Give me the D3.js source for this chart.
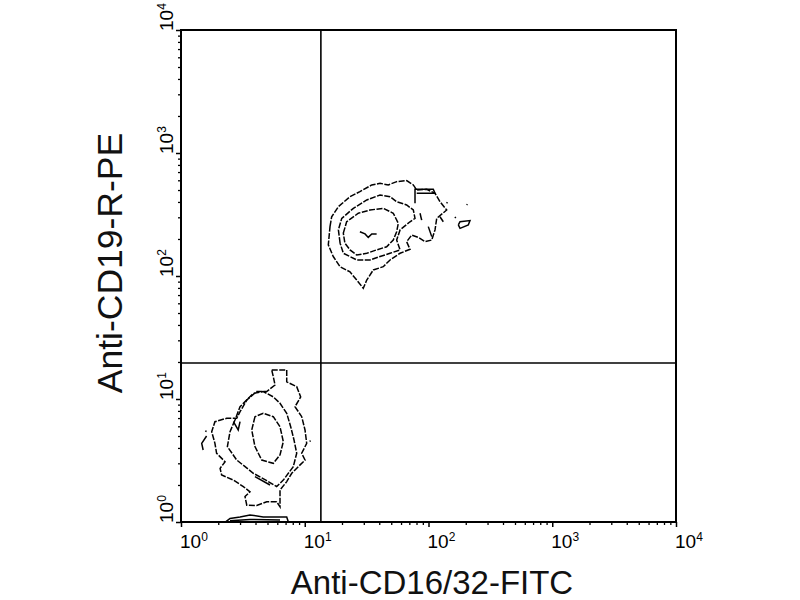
<!DOCTYPE html>
<html><head><meta charset="utf-8">
<script src="https://cdn.jsdelivr.net/npm/d3@7"></script>
<style>body{margin:0;background:#fff}</style>
</head><body>
<svg id="chart" width="800" height="600"></svg>
<script>
// ---- data ----
const decades = [1, 10, 100, 1000, 10000];
const decadeExponents = ["0", "1", "2", "3", "4"];
const minorMultipliers = [2, 3, 4, 5, 6, 7, 8, 9];
const xTitle = "Anti-CD16/32-FITC";
const yTitle = "Anti-CD19-R-PE";
const quadrantX = 13.5;
const quadrantY = 19.6;

// upper-right population (CD19+) contour levels, [FITC, PE]
const upperOuter = [[16.0,252],[16.5,303],[18.7,366],[23.2,441],[27.9,485],[34.8,550],[40.6,567],[47.3,550],[55.3,585],[66.6,596],[75.4,550],[80.3,500],[96.7,507],[112.9,470],[123.8,402],[140.3,344],[116.5,294],[112.9,237],[106.2,196],[93.7,190],[82.7,206],[73.1,215],[66.6,190],[70.9,165],[58.9,153],[48.9,135],[43.1,119],[35.8,112],[31.7,92.8],[29.7,79.4],[26.3,92.8],[23.2,108],[19.3,119],[17.0,144],[15.5,179]];
const upperMiddle = [[19.3,185],[18.7,237],[19.9,294],[24.7,355],[31.7,415],[40.6,456],[48.9,441],[55.3,402],[66.6,378],[75.4,344],[77.8,294],[70.9,276],[58.9,237],[55.3,196],[58.9,163],[48.9,153],[40.6,144],[33.7,135],[26.3,135],[23.2,144],[20.5,153]];
const upperInner = [[20.5,223],[21.8,276],[27.1,324],[33.7,344],[43.1,355],[51.9,324],[57.0,268],[55.3,229],[51.9,196],[45.9,173],[38.1,163],[31.7,153],[26.3,148],[23.2,163],[21.1,185]];
const upperCore = [[27.9,229],[30.7,220],[32.6,206],[34.8,220],[38.1,220]];
const upperFragments = [
  [[77.8,390],[77.8,507],[109.3,507],[112.9,470],[80.3,470]],
  [[174.2,260],[179.8,276],[216.4,282],[209.7,260],[179.8,244],[174.2,260]],
  [[85.4,324],[88.1,285]],
  [[99.6,252],[106.2,209]],
  [[123.8,303],[131.7,276]],
  [[140.3,390],[142,398]],
  [[163.7,303],[166,296]],
  [[203.6,378],[206,384]]
];

// lower-left population (double negative) contour levels
const lowerOuter = [[5.41,17.2],[7.15,17.2],[7.15,13.8],[8.61,12.6],[9.27,10.4],[8.34,8.66],[9.45,7.18],[10.05,5.60],[10.37,4.36],[9.45,3.62],[10.05,3.19],[8.87,2.82],[7.85,2.49],[7.15,2.13],[6.31,1.82],[6.31,1.33],[5.93,1.46],[4.93,1.46],[4.09,1.36],[3.40,1.37],[3.29,1.61],[3.61,1.76],[3.19,1.94],[2.65,2.19],[2.13,2.41],[2.07,2.73],[2.27,3.09],[1.94,3.62],[1.88,4.36],[1.77,5.42],[1.88,6.54],[2.34,6.97],[2.82,6.97],[3.00,7.88],[3.40,9.81],[4.09,11.5],[4.93,11.5],[5.75,13.0],[5.57,15.2]];
const lowerMiddle = [[2.73,6.75],[2.49,5.42],[2.37,4.10],[2.82,3.19],[3.84,2.49],[4.93,2.17],[5.93,1.94],[6.71,2.19],[8.08,2.82],[8.61,3.62],[8.19,4.64],[7.70,5.95],[7.15,7.65],[6.31,9.23],[5.57,10.4],[4.62,11.5],[3.84,11.1],[3.00,8.66]];
const lowerInner = [[3.96,7.18],[3.73,5.60],[3.96,4.10],[4.49,3.19],[5.57,3.00],[6.31,3.51],[6.71,4.50],[6.31,5.95],[5.57,7.18],[4.62,7.65]];
const lowerBase = [[2.31,1.006],[2.49,1.07],[3.00,1.10],[3.61,1.14],[4.62,1.10],[7.15,1.10],[7.36,1.006]];
const lowerBaseInner = [[2.49,1.024],[3.61,1.05],[6.31,1.04]];
const lowerFragments = [
  [[2.65,6.54],[2.90,5.60],[3.00,6.54]],
  [[1.61,5.00],[1.47,4.36],[1.51,3.85]],
  [[3.96,2.34],[5.24,2.0]],
  [[1.58,5.4],[1.60,5.55]],
  [[11.0,4.50],[11.1,4.60]]
];

// ---- drawing ----
const svg = d3.select("#chart");
const x = d3.scaleLog().domain([1, 1e4]).range([181, 676]);
const y = d3.scaleLog().domain([1, 1e4]).range([522, 30]);
const font = "Arial, 'Liberation Sans', sans-serif";

const minorTicks = [];
decades.slice(0, -1).forEach(d => minorMultipliers.forEach(m => minorTicks.push(d * m)));

// ticks
svg.append("g").attr("transform", `translate(0,${y(1)})`)
  .call(d3.axisBottom(x).tickValues(minorTicks).tickSize(3).tickFormat(""))
  .call(g => g.select(".domain").remove())
  .selectAll("line").attr("stroke", "#000").attr("stroke-width", 1.3);
svg.append("g").attr("transform", `translate(0,${y(1)})`)
  .call(d3.axisBottom(x).tickValues(decades).tickSize(5).tickFormat(""))
  .call(g => g.select(".domain").remove())
  .selectAll("line").attr("stroke", "#000").attr("stroke-width", 1.5);
svg.append("g").attr("transform", `translate(${x(1)},0)`)
  .call(d3.axisLeft(y).tickValues(minorTicks).tickSize(3).tickFormat(""))
  .call(g => g.select(".domain").remove())
  .selectAll("line").attr("stroke", "#000").attr("stroke-width", 1.3);
svg.append("g").attr("transform", `translate(${x(1)},0)`)
  .call(d3.axisLeft(y).tickValues(decades).tickSize(5).tickFormat(""))
  .call(g => g.select(".domain").remove())
  .selectAll("line").attr("stroke", "#000").attr("stroke-width", 1.5);

// frame
svg.append("rect")
  .attr("x", x(1)).attr("y", y(1e4))
  .attr("width", x(1e4) - x(1)).attr("height", y(1) - y(1e4))
  .attr("fill", "none").attr("stroke", "#000").attr("stroke-width", 2);

// quadrant gates
svg.append("line").attr("x1", x(quadrantX)).attr("x2", x(quadrantX))
  .attr("y1", y(1)).attr("y2", y(1e4)).attr("stroke", "#000").attr("stroke-width", 1.6);
svg.append("line").attr("x1", x(1)).attr("x2", x(1e4))
  .attr("y1", y(quadrantY)).attr("y2", y(quadrantY)).attr("stroke", "#000").attr("stroke-width", 1.6);

// tick labels
function powLabel(sel, exp) {
  sel.append("tspan").text("10");
  sel.append("tspan").attr("dy", -7).attr("font-size", 12).text(exp);
}
decades.forEach((d, i) => {
  svg.append("text").attr("x", x(d) - 1).attr("y", 548)
    .attr("font-family", font).attr("font-size", 19).attr("fill", "#000")
    .call(s => powLabel(s, decadeExponents[i]));
  svg.append("text").attr("transform", `translate(173,${y(d) + 1}) rotate(-90)`)
    .attr("font-family", font).attr("font-size", 19).attr("fill", "#000")
    .call(s => powLabel(s, decadeExponents[i]));
});

// axis titles
svg.append("text").attr("x", 432).attr("y", 594).attr("text-anchor", "middle")
  .attr("font-family", font).attr("font-size", 33).attr("fill", "#111").text(xTitle);
svg.append("text").attr("transform", `translate(122,263) rotate(-90)`).attr("text-anchor", "middle")
  .attr("font-family", font).attr("font-size", 35.5).attr("fill", "#111").text(yTitle);

// contours
const line = d3.line().x(d => x(d[0])).y(d => y(d[1]));
const closed = d3.line().x(d => x(d[0])).y(d => y(d[1])).curve(d3.curveLinearClosed);
const cg = svg.append("g").attr("fill", "none").attr("stroke", "#000")
  .attr("stroke-width", 1.5).attr("stroke-linejoin", "miter");
[upperOuter, upperMiddle, upperInner, lowerOuter, lowerMiddle, lowerInner].forEach(c =>
  cg.append("path").attr("d", closed(c)).attr("stroke-dasharray", "6 1.5"));
[upperCore, lowerBase, lowerBaseInner, ...upperFragments, ...lowerFragments].forEach(c =>
  cg.append("path").attr("d", line(c)));
</script>
</body></html>
